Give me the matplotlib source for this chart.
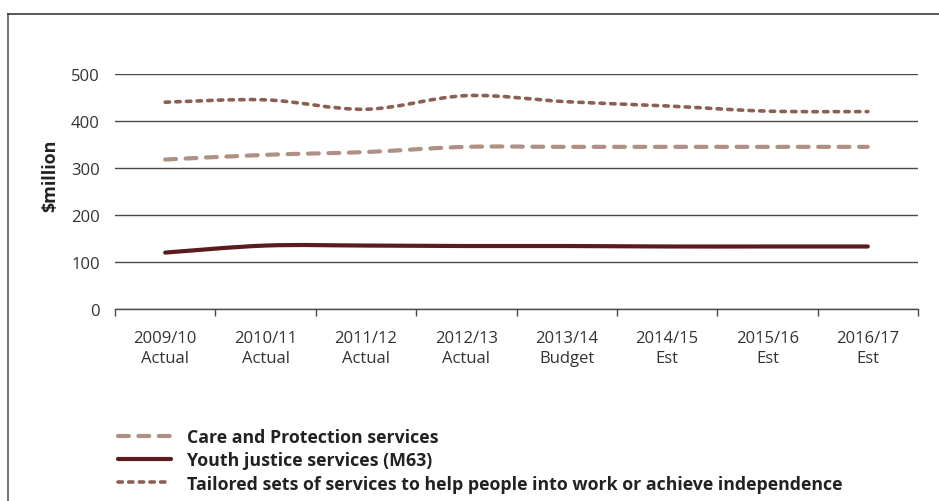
import numpy as np
import matplotlib.pyplot as plt
from matplotlib.lines import Line2D
from matplotlib.path import Path
from matplotlib.patches import PathPatch

plt.rcParams['font.family'] = ['Open Sans', 'DejaVu Sans']

# Spending by output class, $million
years = ['2009/10\nActual', '2010/11\nActual', '2011/12\nActual', '2012/13\nActual',
         '2013/14\nBudget', '2014/15\nEst', '2015/16\nEst', '2016/17\nEst']
care_protection = [318, 328, 334, 345, 345, 345, 345, 345]
youth_justice = [120, 135, 135, 134, 134, 133, 133, 133]
tailored_services = [440, 445, 425, 454, 441, 432, 421, 420]

series_names = ['Care and Protection services',
                'Youth justice services (M63)',
                'Tailored sets of services to help people into work or achieve independence']
y_ticks = [0, 100, 200, 300, 400, 500]

CARE_COL = '#ae9084'
YOUTH_COL = '#5a1a1e'
TAIL_COL = '#8c5f53'


def smooth_path(xs, ys):
    """Catmull-Rom style bezier through the data points (spreadsheet 'smoothed line')."""
    pts = np.column_stack([xs, ys]).astype(float)
    n = len(pts)
    verts = [pts[0]]
    codes = [Path.MOVETO]
    for i in range(n - 1):
        p0 = pts[max(i - 1, 0)]
        p1 = pts[i]
        p2 = pts[i + 1]
        p3 = pts[min(i + 2, n - 1)]
        c1 = p1 + (p2 - p0) / 6.0
        c2 = p2 - (p3 - p1) / 6.0
        verts += [c1, c2, p2]
        codes += [Path.CURVE4] * 3
    return Path(verts, codes)


fig = plt.figure(figsize=(9.39, 5.02), dpi=100)
ax = fig.add_axes([115 / 939, 1 - 310 / 502, 803 / 939, 235 / 502])

x = np.arange(len(years))
styles = [
    (care_protection, CARE_COL, 3.0, (0, (2.6, 2.3))),
    (youth_justice, YOUTH_COL, 3.0, 'solid'),
    (tailored_services, TAIL_COL, 2.6, (0, (1.2, 1.75))),
]
handles = []
for (vals, col, lw, ls), name in zip(styles, series_names):
    patch = PathPatch(smooth_path(x, vals), facecolor='none', edgecolor=col,
                      linewidth=lw, linestyle=ls, capstyle='round', zorder=3)
    ax.add_patch(patch)
    handles.append(Line2D([], [], color=col, linewidth=lw, linestyle=ls,
                          dash_capstyle='round', solid_capstyle='round'))

ax.set_xlim(-0.5, len(years) - 0.5)
ax.set_ylim(0, 500)
ax.set_yticks(y_ticks)
ax.yaxis.grid(True, color='#4a4a4a', linewidth=1.0)
ax.set_axisbelow(True)

ax.set_xticks(x)
ax.set_xticklabels(years, fontsize=12, color='#333333', linespacing=1.38)
ax.set_xticks(np.arange(len(years) + 1) - 0.5, minor=True)
ax.tick_params(axis='x', which='major', length=0, pad=15)
ax.tick_params(axis='x', which='minor', length=5, width=1, color='#4a4a4a', direction='out')
ax.tick_params(axis='y', length=0, pad=11, labelsize=12, labelcolor='#333333')

for side in ['top', 'right', 'left']:
    ax.spines[side].set_visible(False)
ax.spines['bottom'].set_color('#4a4a4a')
ax.spines['bottom'].set_linewidth(1.0)

fig.text(50 / 939, 1 - 176 / 502, '$million', rotation=90, ha='center', va='center',
         fontsize=13, fontweight='bold', color='#222222')

fig.legend(handles, series_names, loc='upper left',
           bbox_to_anchor=(118 / 939, 1 - 429 / 502), frameon=False,
           prop={'size': 12.8, 'weight': 'bold'}, labelcolor='#222222',
           handlelength=3.0, handletextpad=0.9, labelspacing=0.3, borderpad=0,
           borderaxespad=0)

# outer frame (top and left edges)
fig.add_artist(Line2D([8 / 939, 8 / 939], [0, 1 - 15 / 502], transform=fig.transFigure,
                      color='#7a7a7a', linewidth=1.5))
fig.add_artist(Line2D([8 / 939, 1], [1 - 15 / 502, 1 - 15 / 502], transform=fig.transFigure,
                      color='#3a3a3a', linewidth=1.2))

fig.savefig('out.png', dpi=100)
